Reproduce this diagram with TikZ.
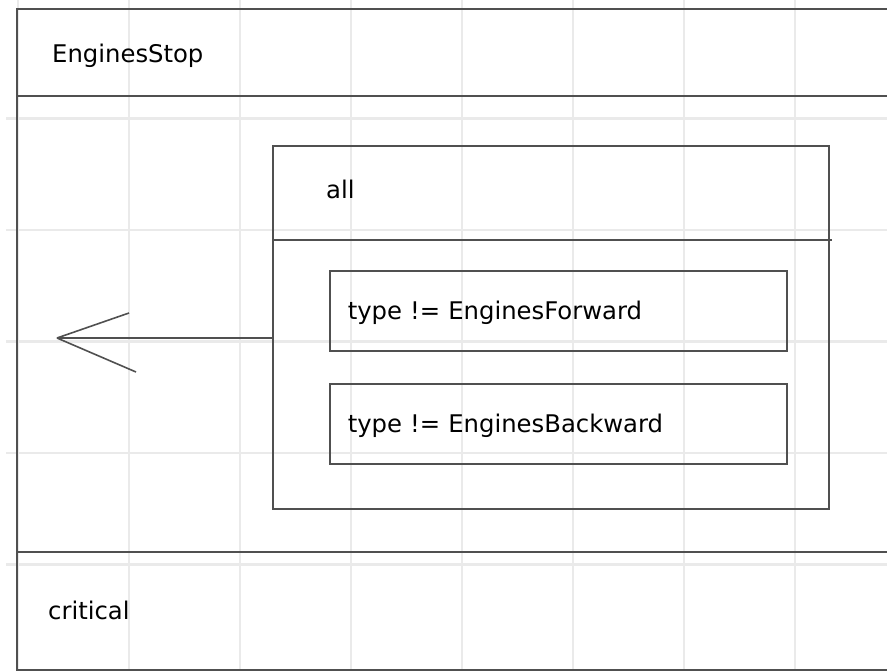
\documentclass[tikz,border=0pt]{standalone}
\usepackage{fontspec}
\setmainfont{DejaVu Sans}
\usetikzlibrary{positioning}
\definecolor{gridgray}{RGB}{234,234,234}
\definecolor{linegray}{RGB}{80,80,80}
\begin{document}
\begin{tikzpicture}[x=1pt,y=-1pt,
    gridline/.style={gridgray,line width=2.5pt},
    frame/.style={linegray,line width=2pt},
    barb/.style={linegray,line width=1.6pt},
    lbl/.style={font=\fontsize{24.3}{28}\selectfont,anchor=base west,inner sep=0pt},
    condbox/.style={draw=linegray,line width=1.6pt,anchor=north west,
      minimum width=457pt,minimum height=80pt,inner xsep=18pt,
      text width=421pt,align=left,text height=18pt,text depth=0pt,
      font=\fontsize{24.3}{28}\selectfont}]
  \useasboundingbox (0,0) rectangle (887,671);
  \foreach \x in {18,129,...,795}
    \draw[gridline] (\x,0) -- (\x,671);
  \foreach \y in {118.5,230,...,565}
    \draw[gridline] (6,\y) -- (887,\y);
  \draw[frame] (890,9) -- (17,9) -- (17,670) -- (890,670);
  \draw[frame] (17,96) -- (890,96);
  \draw[frame] (17,552) -- (890,552);
  \node[lbl] (title) at (52,63) {EnginesStop};
  \node[lbl] (critical) at (48,619) {critical};
  \node[draw=linegray,line width=2pt,anchor=north west,minimum width=556pt,
    minimum height=363pt,inner sep=0pt] (allbox) at (272,145) {};
  \node[lbl] (alllbl) at (326,199) {all};
  \draw[frame] (allbox.west |- 0,240) -- (832,240);
  \node[condbox] (fwd) at (329,270) {type != EnginesForward};
  \node[condbox] (bwd) at (329,383) {type != EnginesBackward};
  \coordinate (tip) at (57,338);
  \draw[barb] (allbox.west |- tip) -- (tip);
  \draw[barb] (tip) -- ++(72,-25);
  \draw[barb] (tip) -- ++(79,34);
\end{tikzpicture}
\end{document}
